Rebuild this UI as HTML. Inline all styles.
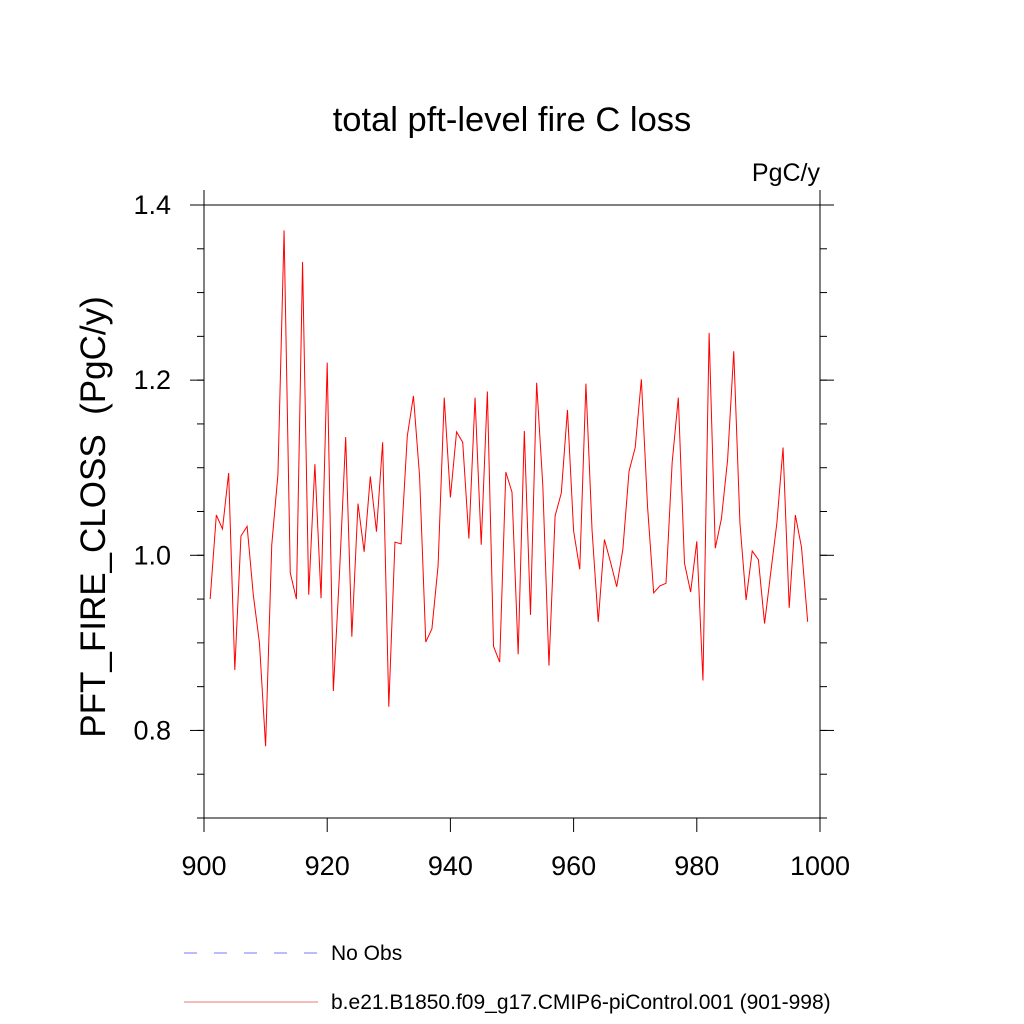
<!DOCTYPE html>
<html><head><meta charset="utf-8"><style>
html,body{margin:0;padding:0;background:#fff;}
svg{display:block;font-family:"Liberation Sans",sans-serif;}
</style></head><body>
<svg id="chart" width="1024" height="1024" viewBox="0 0 1024 1024" xmlns="http://www.w3.org/2000/svg">
<rect width="1024" height="1024" fill="#fff"/>
<text x="512" y="131" font-size="34.5" text-anchor="middle">total pft-level fire C loss</text>
<text x="820" y="181" font-size="25" text-anchor="end">PgC/y</text>
<text transform="translate(105,517) rotate(-90)" font-size="35" text-anchor="middle" style="white-space:pre">PFT_FIRE_CLOSS  (PgC/y)</text>
<g id="axes"></g>
<polyline id="series" fill="none" stroke="#ff0000" stroke-width="1"/>
<line x1="184" y1="953" x2="318" y2="953" stroke="#7777ff" stroke-width="1" stroke-dasharray="13,17"/>
<text x="331" y="960" font-size="21">No Obs</text>
<line x1="184" y1="1002" x2="318" y2="1002" stroke="#ee7777" stroke-width="1"/>
<text x="331" y="1009" font-size="21">b.e21.B1850.f09_g17.CMIP6-piControl.001 (901-998)</text>
</svg>
<script>
const years = [];
for (let y = 901; y <= 998; y++) years.push(y);
const values = [0.950,1.046,1.030,1.094,0.869,1.022,1.033,0.955,0.900,0.782,
1.012,1.092,1.371,0.980,0.950,1.335,0.955,1.104,0.951,1.220,
0.845,0.980,1.135,0.907,1.059,1.004,1.090,1.027,1.129,0.827,
1.015,1.013,1.136,1.182,1.090,0.901,0.916,0.988,1.180,1.066,
1.141,1.129,1.019,1.180,1.012,1.187,0.896,0.878,1.095,1.072,
0.887,1.142,0.932,1.197,1.080,0.874,1.045,1.071,1.166,1.028,
0.984,1.196,1.028,0.924,1.018,0.992,0.964,1.007,1.096,1.123,
1.201,1.056,0.957,0.965,0.968,1.106,1.180,0.991,0.958,1.016,
0.857,1.254,1.008,1.042,1.109,1.233,1.037,0.949,1.005,0.995,
0.922,0.980,1.037,1.123,0.940,1.046,1.009,0.924];
const xTicks = [900,920,940,960,980,1000];
const yTicks = [0.8,1.0,1.2,1.4];
const yTickLabels = ["0.8","1.0","1.2","1.4"];
const yMinor = [0.7,0.75,0.8,0.85,0.9,0.95,1.0,1.05,1.1,1.15,1.2,1.25,1.3,1.35,1.4];

const L=204,R=820,T=205,B=818, xMin=900,xMax=1000,yMin=0.7,yMax=1.4;
const xs = v => L + (v-xMin)/(xMax-xMin)*(R-L);
const ys = v => B - (v-yMin)/(yMax-yMin)*(B-T);
const NS="http://www.w3.org/2000/svg";
const g=document.getElementById('axes');
function ln(x1,y1,x2,y2,name){
  const e=document.createElementNS(NS,'line');
  e.setAttribute('x1',x1);e.setAttribute('y1',y1);e.setAttribute('x2',x2);e.setAttribute('y2',y2);
  e.setAttribute('stroke','#000');e.setAttribute('stroke-width','1');
  
  
  g.appendChild(e);
}
function tx(x,y,s,anchor,name){
  const e=document.createElementNS(NS,'text');
  e.setAttribute('x',x);e.setAttribute('y',y);e.setAttribute('font-size','27');e.setAttribute('text-anchor',anchor);
  e.textContent=s;
  
  
  g.appendChild(e);
}
const fr=document.createElementNS(NS,'rect');
fr.setAttribute('x',L);fr.setAttribute('y',T);fr.setAttribute('width',R-L);fr.setAttribute('height',B-T);
fr.setAttribute('fill','none');fr.setAttribute('stroke','#000');fr.setAttribute('stroke-width','1');


g.appendChild(fr);
ln(L,T,L,T-15,'left-axis-extension');
ln(R,T,R,T-15,'right-axis-extension');
xTicks.forEach(v=>{
  const x=xs(v);
  ln(x,B,x,B+14,'x-tick');
  tx(x,B+57,String(v),'middle','x-tick-label');
});
yMinor.forEach(v=>{
  const y=ys(v);
  ln(L,y,L-7,y,'y-minor-tick');
  ln(R,y,R+7,y,'y-minor-tick-right');
});
yTicks.forEach((v,i)=>{
  const y=ys(v);
  ln(L,y,L-14,y,'y-tick');
  ln(R,y,R+14,y,'y-tick-right');
  tx(L-33,y+9,yTickLabels[i],'end','y-tick-label');
});
document.getElementById('series').setAttribute('points',
  values.map((v,i)=>xs(years[i]).toFixed(2)+','+ys(v).toFixed(2)).join(' '));
</script>
</body></html>
